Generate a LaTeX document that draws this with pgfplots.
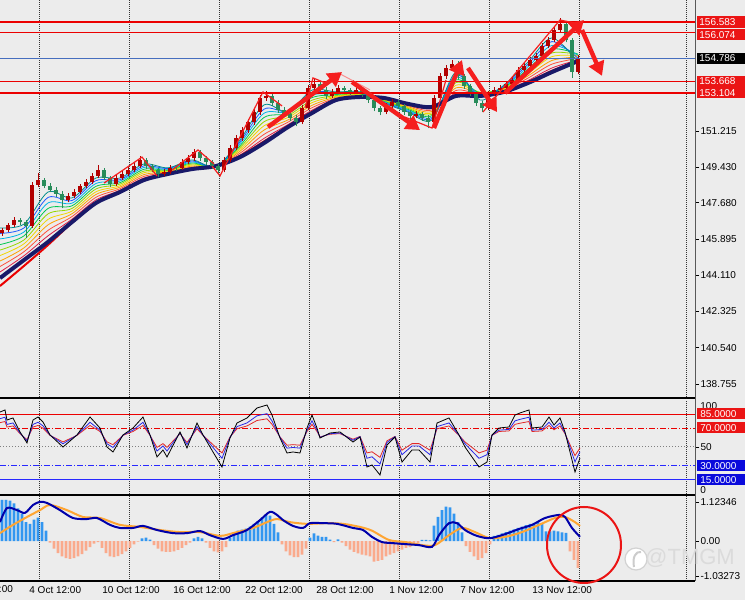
\documentclass[border=0pt]{standalone}
\usepackage{pgfplots}
\pgfplotsset{compat=1.18}
\usepackage{pgfplotstable}
\usepackage{fontspec}
\setmainfont{Liberation Sans}
\usetikzlibrary{arrows.meta}

\definecolor{bg}{RGB}{236,236,236}
\definecolor{bull}{RGB}{178,0,0}
\definecolor{bear}{RGB}{40,140,90}
\definecolor{lvlred}{RGB}{235,0,0}
\definecolor{bidblue}{RGB}{70,110,190}
\definecolor{navyma}{RGB}{25,25,105}
\definecolor{rb0}{RGB}{0,140,140}
\definecolor{rb1}{RGB}{30,90,255}
\definecolor{rb2}{RGB}{0,180,230}
\definecolor{rb3}{RGB}{0,200,80}
\definecolor{rb4}{RGB}{150,215,0}
\definecolor{rb5}{RGB}{240,215,0}
\definecolor{rb6}{RGB}{255,160,0}
\definecolor{rb7}{RGB}{255,80,60}
\definecolor{rb8}{RGB}{220,30,70}
\definecolor{annored}{RGB}{245,30,30}
\definecolor{oscblue}{RGB}{40,40,230}
\definecolor{oscred}{RGB}{225,40,40}
\definecolor{histpos}{RGB}{50,150,240}
\definecolor{histneg}{RGB}{250,170,140}
\definecolor{macdblue}{RGB}{0,0,170}
\definecolor{sigorange}{RGB}{255,165,50}
\definecolor{boxred}{RGB}{235,20,20}
\definecolor{boxblue}{RGB}{10,10,220}
\definecolor{lvlblue}{RGB}{40,40,255}

% candles: x is the bar position on the chart, prices o h l c
\pgfplotstableread{
x o h l c
2 146.20 146.45 146.05 146.34
8 146.34 146.70 146.22 146.58
14 146.58 146.98 146.48 146.83
20 146.83 146.95 146.60 146.73
26 146.73 146.85 145.94 146.54
32 146.54 148.70 146.45 148.56
38 148.56 149.15 148.45 148.80
44 148.80 148.92 148.40 148.51
50 148.51 148.66 148.20 148.31
56 148.31 148.45 147.98 148.11
62 148.11 148.25 147.42 147.82
68 147.82 148.15 147.70 148.01
74 148.01 148.35 147.90 148.21
80 148.21 148.62 148.10 148.51
86 148.51 148.86 148.40 148.70
92 148.70 149.14 148.60 149.00
98 149.00 149.54 148.88 149.29
104 149.29 149.40 148.78 148.90
110 148.90 149.02 148.45 148.60
116 148.60 149.05 148.50 148.90
122 148.90 149.22 148.80 149.10
128 149.10 149.42 148.98 149.29
134 149.29 149.62 149.18 149.49
140 149.49 149.98 149.38 149.79
146 149.79 149.90 149.36 149.49
152 149.49 149.60 149.18 149.29
158 149.29 149.40 148.96 149.10
164 149.10 149.34 148.98 149.20
170 149.20 149.52 149.10 149.39
176 149.39 149.55 149.25 149.39
182 149.39 149.82 149.30 149.69
188 149.69 150.02 149.58 149.88
194 149.88 150.33 149.76 150.18
200 150.18 150.28 149.75 149.88
206 149.88 149.98 149.56 149.69
212 149.69 149.80 149.36 149.49
218 149.49 149.60 149.10 149.29
224 149.29 149.92 149.18 149.79
230 149.79 150.52 149.68 150.38
236 150.38 151.02 150.26 150.87
242 150.87 151.40 150.74 151.26
248 151.26 151.80 151.14 151.66
254 151.66 152.30 151.52 152.15
260 152.15 152.98 152.02 152.84
266 152.84 153.19 152.70 152.94
272 152.94 153.06 152.46 152.59
278 152.59 152.72 152.12 152.25
284 152.25 152.38 151.92 152.05
290 152.05 152.16 151.72 151.86
296 151.86 151.98 151.46 151.66
302 151.66 152.50 151.55 152.35
308 152.35 153.48 152.24 153.33
314 153.33 153.83 153.20 153.53
320 153.53 153.64 153.10 153.23
326 153.23 153.36 152.80 152.94
332 152.94 153.28 152.84 153.14
338 153.14 153.48 153.02 153.33
344 153.33 153.44 153.10 153.23
350 153.23 153.34 153.00 153.14
356 153.14 153.38 153.04 153.23
362 153.23 153.34 152.90 153.04
368 153.04 153.15 152.60 152.74
374 152.74 152.86 152.20 152.35
380 152.35 152.46 152.00 152.15
386 152.15 152.58 152.04 152.45
392 152.45 152.78 152.34 152.64
398 152.64 152.76 152.32 152.45
404 152.45 152.56 152.02 152.15
410 152.15 152.26 151.82 151.95
416 151.95 152.18 151.85 152.05
422 152.05 152.16 151.72 151.86
428 151.86 151.98 151.36 151.66
434 151.66 152.98 151.55 152.84
440 152.84 154.06 152.72 153.92
446 153.92 154.46 153.80 154.32
452 154.32 154.71 154.20 154.52
458 154.52 154.64 153.80 153.92
464 153.92 154.04 153.30 153.43
470 153.43 153.55 152.92 153.04
476 153.04 153.16 152.46 152.59
482 152.59 152.70 152.15 152.35
488 152.35 153.18 152.24 153.04
494 153.04 153.36 152.92 153.23
500 153.23 153.46 153.12 153.33
506 153.33 153.66 153.22 153.53
512 153.53 153.86 153.42 153.73
518 153.73 154.36 153.62 154.22
524 154.22 154.56 154.10 154.42
530 154.42 154.84 154.30 154.71
536 154.71 155.04 154.60 154.91
542 154.91 155.54 154.80 155.40
548 155.40 155.84 155.28 155.70
554 155.70 156.34 155.58 156.19
560 156.19 156.78 156.08 156.49
566 156.49 156.60 155.58 155.70
572 155.70 155.82 153.83 154.12
578 154.12 154.98 154.00 154.79
}\candles

% moving average ribbon, fast (f) to slow (n)
\pgfplotstableread{
x f k1 k2 k3 k4 k5 k6 k7 k8 rd n
0 146.44 146.17 145.90 145.62 145.35 145.08 144.81 144.54 144.27 143.58 143.97
24 146.63 146.44 146.24 146.05 145.85 145.66 145.46 145.27 145.07 144.57 144.86
48 148.21 147.94 147.67 147.40 147.13 146.86 146.59 146.32 146.05 145.60 145.75
72 147.92 147.79 147.66 147.53 147.40 147.27 147.14 147.00 146.87 146.70 146.73
96 148.90 148.77 148.63 148.49 148.36 148.22 148.09 147.95 147.82 147.70 147.67
120 148.90 148.82 148.75 148.67 148.60 148.52 148.45 148.37 148.29 148.25 148.21
144 149.59 149.50 149.42 149.33 149.24 149.16 149.07 148.98 148.90 148.83 148.80
168 149.40 149.37 149.33 149.30 149.27 149.24 149.20 149.17 149.14 149.12 149.10
192 149.79 149.74 149.69 149.64 149.59 149.54 149.49 149.44 149.39 149.36 149.34
216 149.45 149.45 149.46 149.46 149.47 149.47 149.48 149.48 149.49 149.49 149.49
240 150.77 150.68 150.59 150.49 150.40 150.31 150.22 150.12 150.03 149.98 149.93
264 152.50 152.29 152.09 151.88 151.67 151.47 151.26 151.05 150.85 150.70 150.62
288 152.15 152.18 152.15 152.08 151.98 151.88 151.76 151.65 151.53 151.45 151.41
312 153.23 153.11 152.98 152.86 152.73 152.61 152.48 152.36 152.24 152.15 152.10
336 153.14 153.10 153.05 153.01 152.96 152.92 152.88 152.83 152.79 152.76 152.74
360 153.14 153.11 153.09 153.06 153.03 153.00 152.98 152.95 152.92 152.90 152.89
384 152.59 152.62 152.64 152.67 152.70 152.73 152.76 152.78 152.81 152.84 152.84
408 152.15 152.19 152.24 152.28 152.33 152.37 152.41 152.46 152.50 152.54 152.55
432 151.76 151.83 151.90 151.97 152.04 152.11 152.18 152.25 152.32 152.38 152.40
456 154.12 153.99 153.86 153.73 153.60 153.47 153.34 153.21 153.08 152.98 152.94
480 152.74 152.90 153.00 153.08 153.12 153.12 153.08 153.04 152.99 152.95 152.94
504 153.48 153.44 153.41 153.37 153.33 153.29 153.26 153.22 153.18 153.15 153.14
528 154.61 154.50 154.38 154.27 154.16 154.04 153.93 153.82 153.70 153.62 153.58
552 155.80 155.62 155.43 155.25 155.06 154.88 154.69 154.51 154.32 154.18 154.12
578 154.61 154.80 154.95 155.00 154.98 154.93 154.86 154.79 154.72 154.68 154.66
}\ribbon

% oscillator: k black, b blue, r red
\pgfplotstableread{
x k b r
0 87.2 80.1 75.9
5 89.4 81.7 77.1
7 78.7 74.0 71.2
13 80.9 75.6 72.4
20 66.0 64.9 64.2
27 54.3 56.5 57.8
33 78.7 74.0 71.2
38 81.9 76.3 72.9
43 76.6 72.5 70.0
50 62.8 62.6 62.4
63 50.0 53.4 55.4
77 62.8 62.6 62.4
90 81.9 76.3 72.9
100 70.2 67.9 66.5
107 50.0 53.4 55.4
113 44.7 49.5 52.5
123 62.8 62.6 62.4
133 70.2 67.9 66.5
143 81.9 76.3 72.9
150 62.8 62.6 62.4
157 39.4 45.7 49.6
163 46.8 51.1 53.6
167 39.4 45.7 49.6
180 66.0 64.9 64.2
187 48.9 52.6 54.8
197 75.5 71.7 69.4
203 62.8 62.6 62.4
213 44.7 49.5 52.5
222 28.7 38.0 43.7
230 59.6 60.3 60.7
237 75.5 71.7 69.4
247 80.9 75.6 72.4
257 91.5 83.2 78.2
267 94.7 85.5 80.0
272 84.0 77.8 74.1
280 59.6 60.3 60.7
287 43.6 48.8 51.9
293 44.7 49.5 52.5
300 43.6 48.8 51.9
307 70.2 67.9 66.5
312 84.0 77.8 74.1
317 70.2 67.9 66.5
320 59.6 60.3 60.7
330 64.9 64.1 63.6
340 66.0 64.9 64.2
353 55.3 57.2 58.3
360 60.6 61.0 61.2
367 28.7 38.0 43.7
372 30.9 39.6 44.9
380 20.2 31.9 39.0
387 52.1 54.9 56.6
395 60.6 61.0 61.2
402 34.0 41.8 46.6
412 46.8 51.1 53.6
419 46.8 51.1 53.6
430 34.0 41.8 46.6
437 75.5 71.7 69.4
449 80.9 75.6 72.4
459 62.8 62.6 62.4
465 50.0 53.4 55.4
479 28.7 38.0 43.7
487 34.0 41.8 46.6
492 62.8 62.6 62.4
499 70.2 67.9 66.5
509 71.3 68.7 67.1
515 84.0 77.8 74.1
520 86.2 79.4 75.3
529 89.4 81.7 77.1
532 70.2 67.9 66.5
542 71.3 68.7 67.1
549 81.9 76.3 72.9
554 73.4 70.2 68.3
560 80.9 75.6 72.4
565 66.0 64.9 64.2
575 23.4 34.2 40.8
580 38.3 44.9 49.0
}\osc

% MACD histogram
\pgfplotstableread[row sep=\\]{
x v\\
2 1.20\\ 6 1.20\\ 10 1.18\\ 14 1.10\\ 18 0.95\\ 22 0.80\\ 26 0.55\\ 30 0.50\\
34 0.62\\ 38 0.68\\ 42 0.55\\ 46 0.30\\ 50 -0.05\\ 54 -0.22\\ 58 -0.35\\ 62 -0.45\\
66 -0.50\\ 70 -0.52\\ 74 -0.50\\ 78 -0.45\\ 82 -0.38\\ 86 -0.28\\ 90 -0.18\\ 94 -0.08\\
98 -0.03\\ 102 -0.20\\ 106 -0.35\\ 110 -0.45\\ 114 -0.47\\ 118 -0.44\\ 122 -0.38\\ 126 -0.30\\
130 -0.20\\ 134 -0.10\\ 138 -0.02\\ 142 0.08\\ 146 0.10\\ 150 0.04\\ 154 -0.12\\ 158 -0.22\\
162 -0.30\\ 166 -0.32\\ 170 -0.32\\ 174 -0.30\\ 178 -0.26\\ 182 -0.20\\ 186 -0.12\\ 190 -0.05\\
194 0.08\\ 198 0.12\\ 202 0.08\\ 206 -0.05\\ 210 -0.20\\ 214 -0.30\\ 218 -0.33\\ 222 -0.30\\
226 -0.18\\ 230 0.10\\ 234 0.22\\ 238 0.30\\ 242 0.33\\ 246 0.36\\ 250 0.42\\ 254 0.50\\
258 0.58\\ 262 0.68\\ 266 0.76\\ 270 0.74\\ 274 0.50\\ 278 0.25\\ 282 -0.10\\ 286 -0.30\\
290 -0.42\\ 294 -0.47\\ 298 -0.47\\ 302 -0.40\\ 306 -0.22\\ 310 0.10\\ 314 0.22\\ 318 0.16\\
322 0.12\\ 326 0.12\\ 330 0.04\\ 334 -0.03\\ 338 0.05\\ 342 -0.05\\ 346 -0.15\\ 350 -0.25\\
354 -0.32\\ 358 -0.36\\ 362 -0.40\\ 366 -0.42\\ 370 -0.45\\ 374 -0.60\\ 378 -0.58\\ 382 -0.55\\
386 -0.45\\ 390 -0.40\\ 394 -0.35\\ 398 -0.30\\ 402 -0.25\\ 406 -0.20\\ 410 -0.18\\ 414 -0.12\\
418 -0.08\\ 422 0.03\\ 426 0.03\\ 430 0.02\\ 434 0.45\\ 438 0.70\\ 442 0.90\\ 446 1.00\\
450 0.98\\ 454 0.80\\ 458 0.55\\ 462 0.25\\ 466 -0.15\\ 470 -0.32\\ 474 -0.45\\ 478 -0.55\\
482 -0.50\\ 486 -0.35\\ 490 -0.10\\ 494 0.15\\ 498 0.18\\ 502 0.22\\ 506 0.26\\ 510 0.30\\
514 0.34\\ 518 0.38\\ 522 0.42\\ 526 0.46\\ 530 0.50\\ 534 0.53\\ 538 0.55\\ 542 0.50\\
546 0.28\\ 550 0.28\\ 554 0.30\\ 558 0.28\\ 562 0.25\\ 566 0.24\\ 570 -0.30\\ 574 -0.55\\
578 -0.78\\
}\hist

\pgfplotsset{
  panel/.style={anchor=south west, scale only axis, width=347.5pt, xmin=0, xmax=695,
    axis line style={draw=none},
    xtick={39,129,219,309,399,489,579,686}, xticklabels={}, xtick style={draw=none},
    xmajorgrids, grid style={gray!40!black, line width=0.4pt, dash pattern=on 0.5pt off 0.5pt},
    ytick pos=right, yticklabel pos=right, tick align=outside, major tick length=2pt,
    ytick style={black, line width=0.4pt},
    yticklabel style={font=\fontsize{5}{6}\selectfont, anchor=west, inner sep=0.6pt},
    /pgf/number format/assume math mode=true},
  wick/.style={only marks, mark=*, mark size=0pt, mark options={draw=none, fill=none},
    forget plot, error bars/.cd, y dir=plus, y explicit,
    error mark=none, error bar style={#1, line width=0.45pt}, /pgfplots/.cd},
  body/.style={only marks, mark=*, mark size=0pt, mark options={draw=none, fill=none},
    forget plot, error bars/.cd, y dir=plus, y explicit,
    error mark=none, error bar style={#1, line width=1.7pt}, /pgfplots/.cd}
}
\tikzset{arr/.style={annored, line width=2.2pt, -{Triangle[length=7pt,width=8pt]}}}

\begin{document}
\begin{tikzpicture}[font=\fontsize{5}{6}\selectfont]
\path[use as bounding box] (0,0) rectangle (372.5pt,300pt);
\clip (0,0) rectangle (372.5pt,300pt);
\fill[bg] (0,0) rectangle (372.5pt,300pt);

% ---------- price panel ----------
\begin{axis}[panel, at={(0pt,101.5pt)}, height=198.5pt, ymin=138.112, ymax=157.668,
  ytick={151.215,149.430,147.680,145.895,144.110,142.325,140.540,138.755},
  yticklabels={151.215,149.430,147.680,145.895,144.110,142.325,140.540,138.755}]
\addplot[rb8, line width=0.4pt, smooth] table[x=x,y=k8] \ribbon;
\addplot[rb7, line width=0.4pt, smooth] table[x=x,y=k7] \ribbon;
\addplot[rb6, line width=0.4pt, smooth] table[x=x,y=k6] \ribbon;
\addplot[rb5, line width=0.4pt, smooth] table[x=x,y=k5] \ribbon;
\addplot[rb4, line width=0.4pt, smooth] table[x=x,y=k4] \ribbon;
\addplot[rb3, line width=0.4pt, smooth] table[x=x,y=k3] \ribbon;
\addplot[rb2, line width=0.4pt, smooth] table[x=x,y=k2] \ribbon;
\addplot[rb1, line width=0.4pt, smooth] table[x=x,y=k1] \ribbon;
\addplot[rb0, line width=0.4pt, smooth] table[x=x,y=f] \ribbon;
\addplot[lvlred, line width=1pt, smooth] table[x=x,y=rd] \ribbon;
\addplot[navyma, line width=2pt, smooth] table[x=x,y=n] \ribbon;

% candles
\addplot[restrict expr to domain={\thisrow{c}-\thisrow{o}}{0:10}, wick=bull]
  table[x=x, y=l, y error plus expr=\thisrow{h}-\thisrow{l}] \candles;
\addplot[restrict expr to domain={\thisrow{c}-\thisrow{o}}{-10:0}, wick=bear]
  table[x=x, y=l, y error plus expr=\thisrow{h}-\thisrow{l}] \candles;
\addplot[restrict expr to domain={\thisrow{c}-\thisrow{o}}{0:10}, body=bull]
  table[x=x, y=o, y error plus expr=\thisrow{c}-\thisrow{o}] \candles;
\addplot[restrict expr to domain={\thisrow{c}-\thisrow{o}}{-10:0}, body=bear]
  table[x=x, y=c, y error plus expr=\thisrow{o}-\thisrow{c}] \candles;

% horizontal levels
\addplot[lvlred, line width=1pt] coordinates {(0,156.583) (695,156.583)};
\addplot[lvlred, line width=0.6pt] coordinates {(0,156.074) (695,156.074)};
\addplot[bidblue, line width=0.5pt] coordinates {(0,154.786) (695,154.786)};
\addplot[lvlred, line width=0.6pt] coordinates {(0,153.668) (695,153.668)};
\addplot[lvlred, line width=1pt] coordinates {(0,153.104) (695,153.104)};

% drawn zigzags and arrows
\draw[annored, line width=0.6pt] (axis cs:104,148.65) -- (axis cs:142,149.93) -- (axis cs:157,149.00);
\draw[annored, line width=0.6pt] (axis cs:172,149.29) -- (axis cs:198,150.28) -- (axis cs:214,149.59);
\draw[annored, line width=0.6pt] (axis cs:212,149.49) -- (axis cs:220,149.00) -- (axis cs:263,153.14) -- (axis cs:282,152.45);
\draw[annored, line width=0.6pt] (axis cs:305,152.35) -- (axis cs:313,153.83) -- (axis cs:328,153.53);
\draw[annored!50, line width=0.5pt] (axis cs:340,154.03) -- (axis cs:370,153.24);
\draw[annored, line width=0.6pt] (axis cs:405,151.90) -- (axis cs:432,151.36) -- (axis cs:446,153.73);
\draw[annored, line width=0.6pt] (axis cs:483,152.15) -- (axis cs:560,156.68) -- (axis cs:580,156.49);
\draw[arr] (axis cs:268,151.41) -- (axis cs:342,154.12);
\draw[arr] (axis cs:352,153.63) -- (axis cs:420,151.26);
\draw[arr] (axis cs:434,151.36) -- (axis cs:462,154.71);
\draw[arr] (axis cs:468,154.32) -- (axis cs:497,152.15);
\draw[arr] (axis cs:505,153.09) -- (axis cs:584,156.68);
\draw[arr] (axis cs:582,156.19) -- (axis cs:602,153.93);
\end{axis}

% ---------- oscillator panel ----------
\begin{axis}[panel, at={(0pt,53pt)}, height=47pt, ymin=0, ymax=100,
  ytick={50}, yticklabels={50}]
\addplot[lvlred, line width=0.5pt] coordinates {(0,85) (695,85)};
\addplot[lvlred, line width=0.5pt, dash pattern=on 3pt off 1pt on 0.5pt off 1pt] coordinates {(0,70) (695,70)};
\addplot[gray, line width=0.5pt, dash pattern=on 0.5pt off 1pt] coordinates {(0,50) (695,50)};
\addplot[lvlblue, line width=0.6pt, dash pattern=on 3pt off 1pt on 0.5pt off 1pt] coordinates {(0,30) (695,30)};
\addplot[lvlblue, line width=0.6pt] coordinates {(0,15) (695,15)};
\addplot[oscred, line width=0.4pt] table[x=x,y=r] \osc;
\addplot[oscblue, line width=0.4pt] table[x=x,y=b] \osc;
\addplot[black, line width=0.4pt] table[x=x,y=k] \osc;
\end{axis}

% ---------- MACD panel ----------
\begin{axis}[panel, at={(0pt,9.5pt)}, height=42.5pt, ymin=-1.166, ymax=1.312,
  ytick={-1.03273,0,1.12346}, yticklabels={-1.03273,0.00,1.12346}]
\addplot[ybar, bar width=1.3pt, bar shift=0pt, fill=histpos, draw=none,
  restrict y to domain=0:5] table[x=x,y=v] \hist;
\addplot[ybar, bar width=1.3pt, bar shift=0pt, fill=histneg, draw=none,
  restrict y to domain=-5:0] table[x=x,y=v] \hist;
\addplot[sigorange, line width=1pt, smooth] coordinates {
(0,0.23) (13,0.47) (27,0.70) (40,0.90) (50,1.05) (67,0.90) (83,0.70) (100,0.67)
(120,0.47) (140,0.41) (160,0.32) (180,0.26) (200,0.26) (220,0.15) (233,0.23)
(253,0.38) (267,0.55) (277,0.64) (290,0.55) (307,0.50) (327,0.52) (343,0.50)
(360,0.41) (372,0.30) (389,0.03) (405,-0.03) (422,-0.12) (435,-0.12) (449,0.17)
(462,0.38) (475,0.26) (489,0.09) (505,0.12) (522,0.26) (539,0.47) (555,0.67)
(565,0.70) (575,0.55) (580,0.44)};
\addplot[macdblue, line width=1pt, smooth] coordinates {
(0,0.55) (7,0.96) (17,0.90) (25,0.82) (33,1.05) (40,1.14) (47,1.11) (60,0.90)
(73,0.67) (87,0.64) (97,0.67) (110,0.47) (120,0.38) (133,0.38) (143,0.44)
(157,0.32) (173,0.23) (187,0.23) (200,0.29) (210,0.17) (223,0.06) (233,0.17)
(247,0.32) (260,0.61) (270,0.85) (277,0.76) (283,0.61) (293,0.44) (303,0.38)
(310,0.52) (323,0.52) (337,0.50) (353,0.38) (363,0.32) (372,0.12) (382,-0.03)
(392,-0.06) (405,-0.09) (419,-0.12) (432,-0.17) (439,0.17) (449,0.52) (457,0.52)
(465,0.32) (475,0.17) (485,0.09) (492,0.09) (505,0.20) (519,0.35) (532,0.47)
(545,0.67) (559,0.76) (565,0.70) (572,0.38) (580,0.12)};
\end{axis}

% ---------- frame, labels, annotations (pixel units) ----------
\begin{scope}[x=0.5pt, y=0.5pt]
\draw[gray!70!black, line width=0.5pt] (695,19) -- (695,600);
\draw[black, line width=1pt] (0,202) -- (695,202);
\draw[black, line width=1pt] (0,105) -- (695,105);
\draw[black, line width=1pt] (0,19) -- (695,19);

% level boxes, price panel
\fill[boxred] (697,572) rectangle (745,583.5);
\node[anchor=west, text=white, inner sep=0pt] at (699,578) {156.583};
\fill[boxred] (697,559.5) rectangle (745,571);
\node[anchor=west, text=white, inner sep=0pt] at (699,565.2) {156.074};
\fill[black] (697,536) rectangle (745,547);
\node[anchor=west, text=white, inner sep=0pt] at (699,541.5) {154.786};
\fill[boxred] (697,513.3) rectangle (745,524.3);
\node[anchor=west, text=white, inner sep=0pt] at (699,518.8) {153.668};
\fill[boxred] (697,501.9) rectangle (745,512.9);
\node[anchor=west, text=white, inner sep=0pt] at (699,507.4) {153.104};

% oscillator boxes
\node[anchor=west, inner sep=0pt] at (700,194) {100};
\fill[boxred] (697,180.5) rectangle (745,191.5);
\node[anchor=west, text=white, inner sep=0pt] at (700,186) {85.0000};
\fill[boxred] (697,166.5) rectangle (745,177.5);
\node[anchor=west, text=white, inner sep=0pt] at (700,172) {70.0000};
\fill[boxblue] (697,128.5) rectangle (745,139.5);
\node[anchor=west, text=white, inner sep=0pt] at (700,134) {30.0000};
\fill[boxblue] (697,114.5) rectangle (745,125.5);
\node[anchor=west, text=white, inner sep=0pt] at (700,120) {15.0000};
\node[anchor=west, inner sep=0pt] at (700,110) {0};

% time labels
\foreach \xx/\lab in {-47/28 Sep 12:00, 29/4 Oct 12:00, 102/10 Oct 12:00, 173/16 Oct 12:00,
  245/22 Oct 12:00, 316/28 Oct 12:00, 389/1 Nov 12:00, 460/7 Nov 12:00, 532/13 Nov 12:00}
  \node[anchor=west, inner sep=0pt] at (\xx,10) {\lab};

% red circle
\draw[boxred, line width=1pt] (584,55) ellipse [x radius=37, y radius=38];

% watermark
\fill[white] (636,41) circle [radius=11];
\draw[gray!35, line width=0.6pt] (636,41) circle [radius=11];
\draw[gray!40, line width=1pt] (634,33) .. controls (632,43) and (636,49) .. (641,48);
\node[text=gray!28, font=\fontsize{11}{12}\selectfont, inner sep=0pt] at (690,42) {@TMGM};
\end{scope}
\end{tikzpicture}
\end{document}
